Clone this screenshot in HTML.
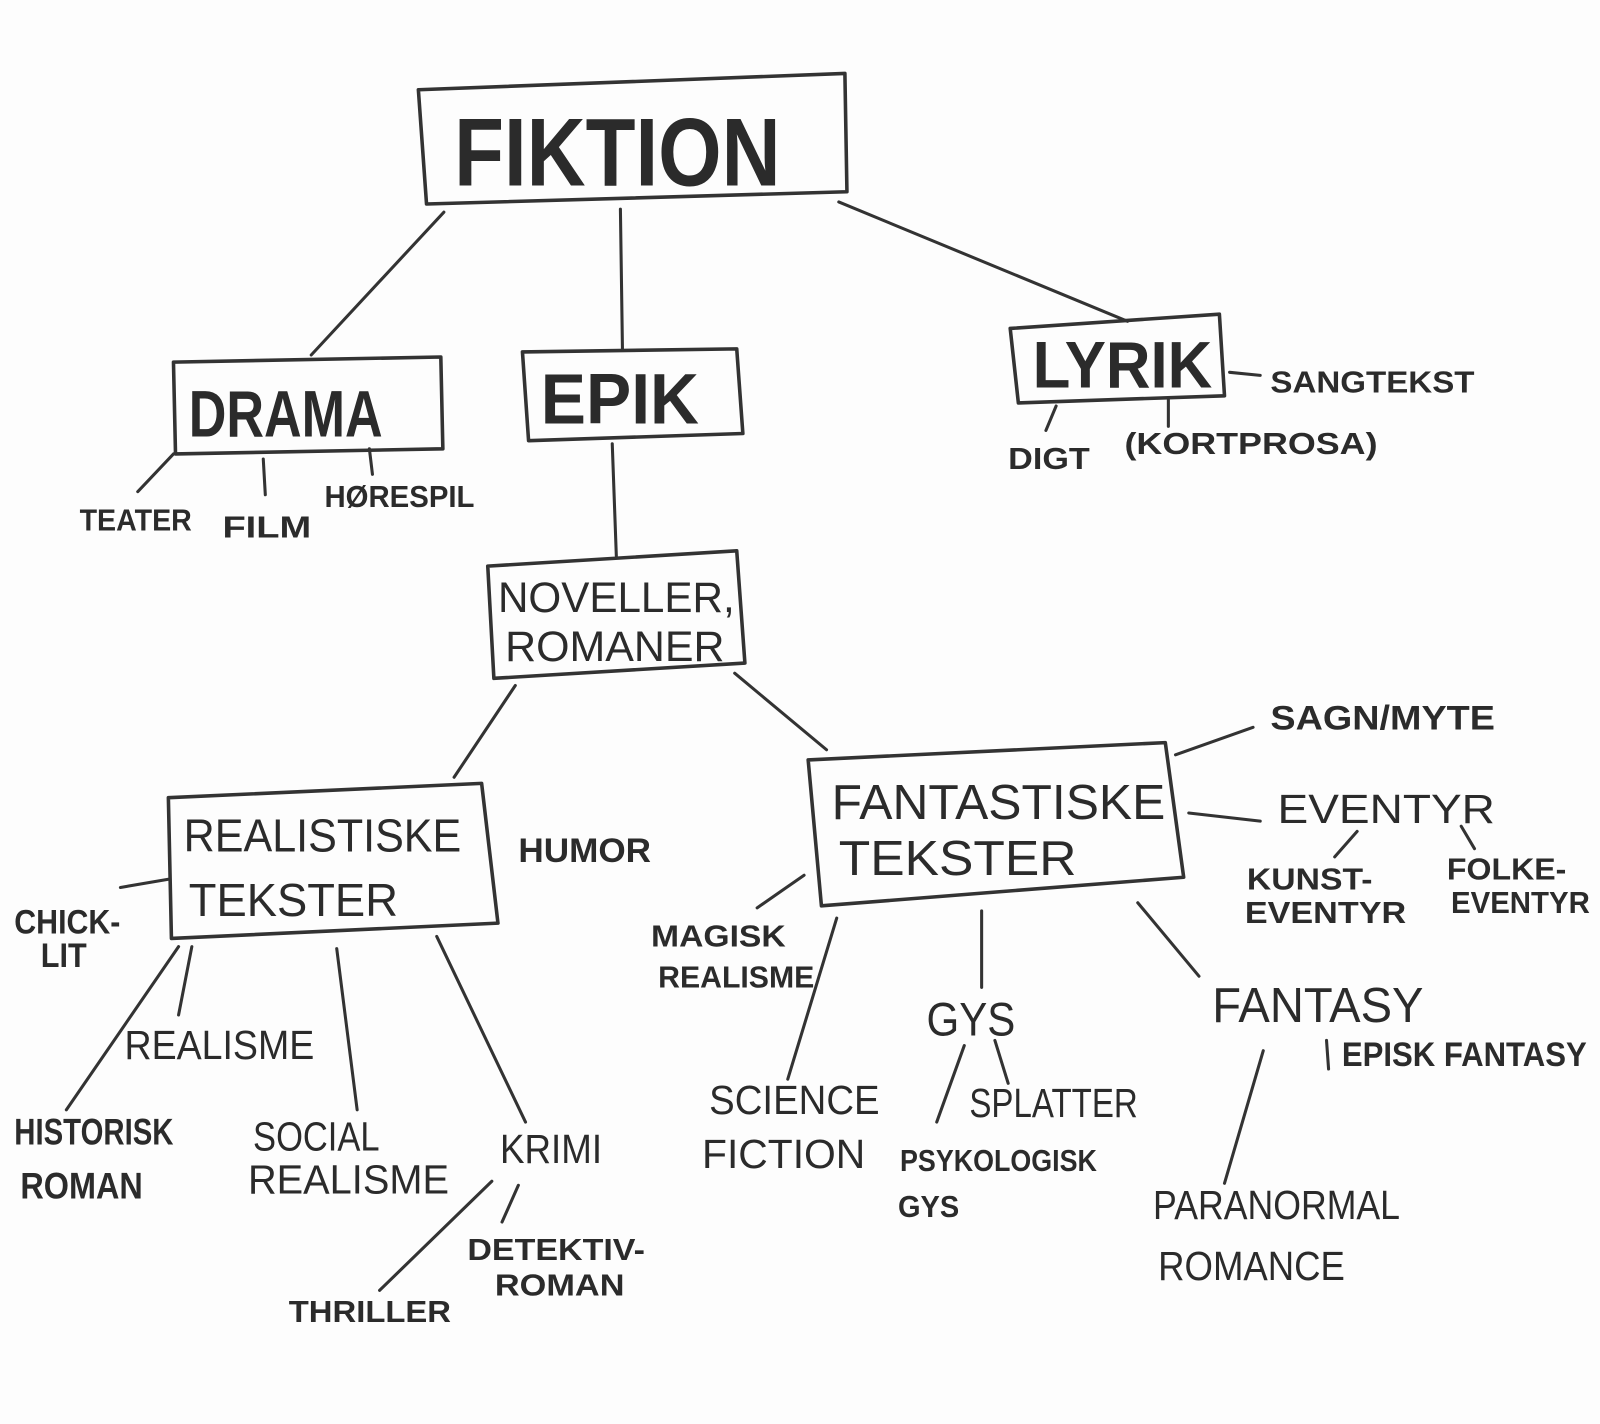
<!DOCTYPE html>
<html><head><meta charset="utf-8"><style>
html,body{margin:0;padding:0;background:#fdfdfd;}
svg{display:block;}
text{font-family:"Liberation Sans",sans-serif;fill:#2b2b2b;}
</style></head><body>
<svg width="1600" height="1424" viewBox="0 0 1568 1396" preserveAspectRatio="none" xmlns="http://www.w3.org/2000/svg">
<rect width="1568" height="1396" fill="#fdfdfd"/>
<g fill="none" stroke="#333" stroke-width="3.5" stroke-linecap="round" stroke-linejoin="round">
<polygon points="410,88 828,72 830,188 418,200"/>
<polygon points="170,355 432,350 434,440 172,445"/>
<polygon points="512,345 722,342 728,425 518,432"/>
<polygon points="990,322 1195,308 1200,388 998,395"/>
<polygon points="478,555 722,540 730,650 484,665"/>
<polygon points="165,782 472,768 488,905 168,920"/>
<polygon points="792,745 1142,728 1160,860 805,888"/>
</g>
<g stroke="#333" stroke-width="3" stroke-linecap="round">
<line x1="435" y1="208" x2="305" y2="348"/>
<line x1="608" y1="205" x2="610" y2="342"/>
<line x1="822" y1="198" x2="1105" y2="315"/>
<line x1="170" y1="445" x2="135" y2="482"/>
<line x1="258" y1="450" x2="260" y2="485"/>
<line x1="362" y1="440" x2="365" y2="465"/>
<line x1="1205" y1="365" x2="1235" y2="368"/>
<line x1="1035" y1="398" x2="1025" y2="422"/>
<line x1="1145" y1="392" x2="1145" y2="418"/>
<line x1="600" y1="435" x2="604" y2="545"/>
<line x1="505" y1="672" x2="445" y2="762"/>
<line x1="720" y1="660" x2="810" y2="735"/>
<line x1="165" y1="862" x2="118" y2="870"/>
<line x1="175" y1="928" x2="65" y2="1088"/>
<line x1="188" y1="928" x2="175" y2="995"/>
<line x1="330" y1="930" x2="350" y2="1088"/>
<line x1="428" y1="918" x2="515" y2="1100"/>
<line x1="482" y1="1158" x2="372" y2="1265"/>
<line x1="508" y1="1162" x2="492" y2="1198"/>
<line x1="1152" y1="740" x2="1228" y2="713"/>
<line x1="1165" y1="797" x2="1235" y2="805"/>
<line x1="1330" y1="815" x2="1308" y2="840"/>
<line x1="1432" y1="810" x2="1445" y2="832"/>
<line x1="788" y1="858" x2="742" y2="890"/>
<line x1="820" y1="900" x2="772" y2="1058"/>
<line x1="962" y1="893" x2="962" y2="968"/>
<line x1="1115" y1="885" x2="1175" y2="957"/>
<line x1="945" y1="1025" x2="918" y2="1100"/>
<line x1="975" y1="1020" x2="988" y2="1062"/>
<line x1="1238" y1="1030" x2="1200" y2="1160"/>
<line x1="1300" y1="1020" x2="1302" y2="1048"/>
</g>
<g>
<text x="445" y="182" font-size="95" font-weight="bold" textLength="320" lengthAdjust="spacingAndGlyphs">FIKTION</text>
<text x="185" y="428" font-size="65" font-weight="bold" textLength="190" lengthAdjust="spacingAndGlyphs">DRAMA</text>
<text x="530" y="415" font-size="70" font-weight="bold" textLength="155" lengthAdjust="spacingAndGlyphs">EPIK</text>
<text x="1012" y="380" font-size="65" font-weight="bold" textLength="176" lengthAdjust="spacingAndGlyphs">LYRIK</text>
<text x="488" y="600" font-size="42" textLength="232" lengthAdjust="spacingAndGlyphs">NOVELLER,</text>
<text x="495" y="648" font-size="42" textLength="215" lengthAdjust="spacingAndGlyphs">ROMANER</text>
<text x="180" y="835" font-size="45" textLength="272" lengthAdjust="spacingAndGlyphs">REALISTISKE</text>
<text x="185" y="898" font-size="45" textLength="205" lengthAdjust="spacingAndGlyphs">TEKSTER</text>
<text x="815" y="803" font-size="48" textLength="327" lengthAdjust="spacingAndGlyphs">FANTASTISKE</text>
<text x="822" y="858" font-size="48" textLength="233" lengthAdjust="spacingAndGlyphs">TEKSTER</text>
<g font-size="30" font-weight="bold">
<text x="78" y="520" textLength="110" lengthAdjust="spacingAndGlyphs">TEATER</text>
<text x="218" y="527" textLength="87" lengthAdjust="spacingAndGlyphs">FILM</text>
<text x="318" y="497" textLength="147" lengthAdjust="spacingAndGlyphs">HØRESPIL</text>
<text x="1245" y="385" textLength="200" lengthAdjust="spacingAndGlyphs">SANGTEKST</text>
<text x="988" y="460" textLength="80" lengthAdjust="spacingAndGlyphs">DIGT</text>
<text x="1102" y="445" textLength="248" lengthAdjust="spacingAndGlyphs">(KORTPROSA)</text>
<text x="1245" y="715" font-size="34" textLength="220" lengthAdjust="spacingAndGlyphs">SAGN/MYTE</text>
<text x="1222" y="872" textLength="123" lengthAdjust="spacingAndGlyphs">KUNST-</text>
<text x="1220" y="905" textLength="158" lengthAdjust="spacingAndGlyphs">EVENTYR</text>
<text x="1418" y="862" textLength="117" lengthAdjust="spacingAndGlyphs">FOLKE-</text>
<text x="1422" y="895" textLength="136" lengthAdjust="spacingAndGlyphs">EVENTYR</text>
<text x="508" y="845" font-size="34" textLength="130" lengthAdjust="spacingAndGlyphs">HUMOR</text>
<text x="14" y="915" font-size="34" textLength="104" lengthAdjust="spacingAndGlyphs">CHICK-</text>
<text x="40" y="948" font-size="34" textLength="45" lengthAdjust="spacingAndGlyphs">LIT</text>
<text x="638" y="928" textLength="132" lengthAdjust="spacingAndGlyphs">MAGISK</text>
<text x="645" y="968" textLength="153" lengthAdjust="spacingAndGlyphs">REALISME</text>
<text x="14" y="1122" font-size="36" textLength="156" lengthAdjust="spacingAndGlyphs">HISTORISK</text>
<text x="20" y="1175" font-size="36" textLength="120" lengthAdjust="spacingAndGlyphs">ROMAN</text>
<text x="283" y="1296" textLength="159" lengthAdjust="spacingAndGlyphs">THRILLER</text>
<text x="458" y="1235" textLength="174" lengthAdjust="spacingAndGlyphs">DETEKTIV-</text>
<text x="485" y="1270" textLength="127" lengthAdjust="spacingAndGlyphs">ROMAN</text>
<text x="882" y="1148" textLength="193" lengthAdjust="spacingAndGlyphs">PSYKOLOGISK</text>
<text x="880" y="1193" textLength="60" lengthAdjust="spacingAndGlyphs">GYS</text>
<text x="1315" y="1045" font-size="34" textLength="240" lengthAdjust="spacingAndGlyphs">EPISK FANTASY</text>
</g>
<g font-size="40">
<text x="1252" y="807" textLength="213" lengthAdjust="spacingAndGlyphs">EVENTYR</text>
<text x="122" y="1038" textLength="186" lengthAdjust="spacingAndGlyphs">REALISME</text>
<text x="248" y="1128" textLength="124" lengthAdjust="spacingAndGlyphs">SOCIAL</text>
<text x="243" y="1170" textLength="197" lengthAdjust="spacingAndGlyphs">REALISME</text>
<text x="490" y="1140" textLength="100" lengthAdjust="spacingAndGlyphs">KRIMI</text>
<text x="695" y="1092" textLength="167" lengthAdjust="spacingAndGlyphs">SCIENCE</text>
<text x="688" y="1145" textLength="160" lengthAdjust="spacingAndGlyphs">FICTION</text>
<text x="908" y="1015" font-size="46" textLength="87" lengthAdjust="spacingAndGlyphs">GYS</text>
<text x="950" y="1095" textLength="165" lengthAdjust="spacingAndGlyphs">SPLATTER</text>
<text x="1188" y="1002" font-size="48" textLength="207" lengthAdjust="spacingAndGlyphs">FANTASY</text>
<text x="1130" y="1195" textLength="242" lengthAdjust="spacingAndGlyphs">PARANORMAL</text>
<text x="1135" y="1255" textLength="183" lengthAdjust="spacingAndGlyphs">ROMANCE</text>
</g>
</g>
</svg>
</body></html>
